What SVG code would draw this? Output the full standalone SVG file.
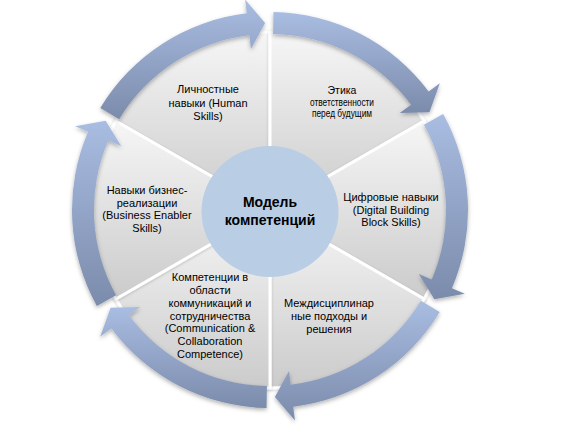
<svg xmlns="http://www.w3.org/2000/svg" width="579" height="433" viewBox="0 0 579 433">
<style>
.seg{fill:url(#segGrad);stroke:#ffffff;stroke-width:3;stroke-linejoin:round;filter:url(#segSh)}
.arr{fill:url(#arrGrad);filter:url(#arrSh)}
.t{font-family:"Liberation Sans",Arial,sans-serif;font-size:11px;fill:#000;text-anchor:middle}
.s{font-size:10.5px}
.c{font-family:"Liberation Sans",Arial,sans-serif;font-size:14px;font-weight:bold;fill:#000;text-anchor:middle}
</style>
<defs>
<linearGradient id="segGrad" x1="0" y1="0" x2="0" y2="1">
<stop offset="0" stop-color="#f6f6f6"/>
<stop offset="1" stop-color="#cbcbcb"/>
</linearGradient>
<linearGradient id="arrGrad" x1="0" y1="0" x2="0" y2="1">
<stop offset="0" stop-color="#a9bde2"/>
<stop offset="1" stop-color="#7b8bab"/>
</linearGradient>
<filter id="arrSh" x="-15%" y="-15%" width="130%" height="135%">
<feDropShadow dx="0" dy="2" stdDeviation="2" flood-color="#000" flood-opacity="0.3"/>
</filter>
<filter id="segSh" x="-10%" y="-10%" width="120%" height="125%">
<feDropShadow dx="0" dy="1" stdDeviation="1.5" flood-color="#000" flood-opacity="0.2"/>
</filter>
</defs>
<rect width="579" height="433" fill="#ffffff"/>

<g id="node-human">
<path class="seg" d="M270,210 L115.85,121 A178,178 0 0 1 270,32 Z"/>
<text class="t" x="208" y="93">Личностные</text>
<text class="t" x="208" y="106.5">навыки (Human</text>
<text class="t" x="208" y="120">Skills)</text>
</g>

<g id="node-ethics">
<path class="seg" d="M270,210 L270,32 A178,178 0 0 1 424.15,121 Z"/>
<text class="t s" x="342" y="94">Этика</text>
<text class="t s" x="342" y="105.5" textLength="64" lengthAdjust="spacingAndGlyphs">ответственности</text>
<text class="t s" x="342" y="117" textLength="60" lengthAdjust="spacingAndGlyphs">перед будущим</text>
</g>

<g id="node-digital">
<path class="seg" d="M270,210 L424.15,121 A178,178 0 0 1 424.15,299 Z"/>
<text class="t" x="391" y="200.5">Цифровые навыки</text>
<text class="t" x="391" y="213.5">(Digital Building</text>
<text class="t" x="391" y="226">Block Skills)</text>
</g>

<g id="node-interdisciplinary">
<path class="seg" d="M270,210 L424.15,299 A178,178 0 0 1 270,388 Z"/>
<text class="t" x="329" y="306.5">Междисциплинар</text>
<text class="t" x="329" y="320">ные подходы и</text>
<text class="t" x="329" y="333">решения</text>
</g>

<g id="node-communication">
<path class="seg" d="M270,210 L270,388 A178,178 0 0 1 115.85,299 Z"/>
<text class="t" x="210" y="281">Компетенции в</text>
<text class="t" x="210" y="294">области</text>
<text class="t" x="210" y="306.8">коммуникаций и</text>
<text class="t" x="210" y="319.6">сотрудничества</text>
<text class="t" x="210" y="332.4">(Communication &amp;</text>
<text class="t" x="210" y="345.2">Collaboration</text>
<text class="t" x="210" y="358">Competence)</text>
</g>

<g id="node-business">
<path class="seg" d="M270,210 L115.85,299 A178,178 0 0 1 115.85,121 Z"/>
<text class="t" x="147" y="194">Навыки бизнес-</text>
<text class="t" x="147" y="206.7">реализации</text>
<text class="t" x="147" y="219.4">(Business Enabler</text>
<text class="t" x="147" y="232.1">Skills)</text>
</g>

<g id="connectors">
<path class="arr" d="M100.28,108.02 A198,198 0 0 1 246.73,13.37 L245.08,-0.53 L265.10,23.06 L250.96,49.12 L249.31,35.22 A176,176 0 0 0 119.14,119.35 Z"/>
<path class="arr" d="M273.46,12.03 A198,198 0 0 1 428.65,91.53 L439.87,83.16 L429.44,112.29 L399.80,113.07 L411.02,104.70 A176,176 0 0 0 273.07,34.03 Z"/>
<path class="arr" d="M443.17,114.01 A198,198 0 0 1 451.92,288.16 L464.78,293.69 L434.34,299.23 L418.84,273.95 L431.71,279.48 A176,176 0 0 0 423.93,124.67 Z"/>
<path class="arr" d="M439.72,311.98 A198,198 0 0 1 293.27,406.63 L294.92,420.53 L274.90,396.94 L289.04,370.88 L290.69,384.78 A176,176 0 0 0 420.86,300.65 Z"/>
<path class="arr" d="M266.54,407.97 A198,198 0 0 1 111.35,328.47 L100.13,336.84 L110.56,307.71 L140.20,306.93 L128.98,315.30 A176,176 0 0 0 266.93,385.97 Z"/>
<path class="arr" d="M96.83,305.99 A198,198 0 0 1 88.08,131.84 L75.22,126.31 L105.66,120.77 L121.16,146.05 L108.29,140.52 A176,176 0 0 0 116.07,295.33 Z"/>
</g>

<g id="node-center">
<ellipse cx="270" cy="211.5" rx="68.5" ry="65.5" fill="#b9cde5"/>
<text class="c" x="270" y="206.5">Модель</text>
<text class="c" x="270" y="225">компетенций</text>
</g>
</svg>
